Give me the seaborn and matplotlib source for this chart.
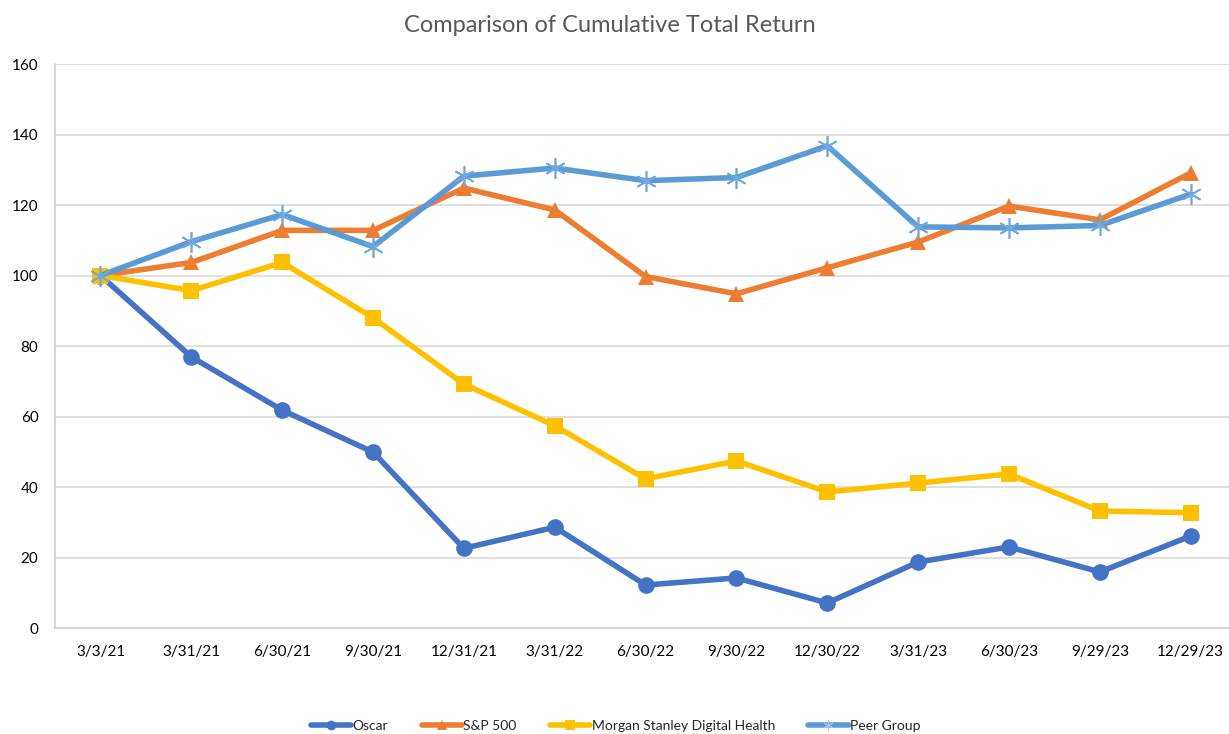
import numpy as np
import pandas as pd
import matplotlib
matplotlib.use("Agg")
import matplotlib.pyplot as plt
import seaborn as sns
from matplotlib.lines import Line2D

# chart data
dates = ["3/3/21", "3/31/21", "6/30/21", "9/30/21", "12/31/21", "3/31/22", "6/30/22",
         "9/30/22", "12/30/22", "3/31/23", "6/30/23", "9/29/23", "12/29/23"]
oscar = [100, 76.9, 61.8, 49.9, 22.6, 28.6, 12.2, 14.2, 7.1, 18.7, 23.0, 15.9, 26.1]
sp500 = [100, 103.7, 112.8, 112.8, 124.8, 118.6, 99.7, 94.8, 102.2, 109.5, 119.7, 115.8, 129.1]
msdh = [100, 95.7, 103.7, 88.0, 69.2, 57.4, 42.3, 47.4, 38.6, 41.1, 43.7, 33.2, 32.7]
peer = [100, 109.6, 117.3, 108.2, 128.2, 130.5, 126.9, 127.8, 136.8, 113.8, 113.5, 114.2, 123.1]

series = ["Oscar", "S&P 500", "Morgan Stanley Digital Health", "Peer Group"]
values = [oscar, sp500, msdh, peer]
colors = ["#4472C4", "#ED7D31", "#FFC000", "#5B9BD5"]
markers = ["o", "^", "s", (6, 2, 0)]

rows = []
for name, vals in zip(series, values):
    for i, v in enumerate(vals):
        rows.append({"pos": i, "value": v, "series": name})
df = pd.DataFrame(rows)

sns.set_style("white")
plt.rcParams["font.family"] = ["Lato", "DejaVu Sans"]

fig = plt.figure(figsize=(12.29, 7.34), dpi=100)
ax = fig.add_axes([0.0448, 0.1444, 0.961, 0.7684])

for name, col, mk in zip(series, colors, markers):
    sub = df[df["series"] == name]
    if name == "Peer Group":
        sns.lineplot(data=sub, x="pos", y="value", ax=ax, color=col, linewidth=4,
                     marker=mk, markersize=15, markeredgewidth=1.2,
                     markeredgecolor="#6FA8DC", markerfacecolor="none")
    else:
        sns.lineplot(data=sub, x="pos", y="value", ax=ax, color=col, linewidth=4,
                     marker=mk, markersize=12, markeredgewidth=0)

ax.set_xlim(-0.5, 12.5)
ax.set_ylim(0, 160)
ax.set_yticks(np.arange(0, 161, 20))
ax.set_xticks(range(len(dates)))
ax.set_xticklabels(dates)
ax.set_xlabel("")
ax.set_ylabel("")
ax.tick_params(axis="both", length=0, labelsize=11, colors="black")
ax.tick_params(axis="x", pad=12)
ax.tick_params(axis="y", pad=12)
ax.grid(axis="y", color="#D9D9D9", linewidth=1.2)
ax.set_axisbelow(True)
for s in ["top", "right"]:
    ax.spines[s].set_visible(False)
for s in ["left", "bottom"]:
    ax.spines[s].set_color("#D0D0D0")
    ax.spines[s].set_linewidth(1.2)

fig.text(0.496, 0.965, "Comparison of Cumulative Total Return", ha="center", va="center",
         fontsize=17, color="#595959")

handles = []
for name, col, mk in zip(series, colors, markers):
    if name == "Peer Group":
        handles.append(Line2D([], [], color=col, linewidth=4, marker=mk, markersize=7,
                              markeredgewidth=0.8, markeredgecolor="#A9C8EA"))
    else:
        handles.append(Line2D([], [], color=col, linewidth=4, marker=mk, markersize=7,
                              markeredgewidth=0))
fig.legend(handles, series, loc="center", bbox_to_anchor=(0.501, 0.011), ncol=4,
           frameon=False, fontsize=10, handlelength=2.9, handletextpad=0.1,
           columnspacing=2.4)

fig.savefig("out.png", dpi=100)
